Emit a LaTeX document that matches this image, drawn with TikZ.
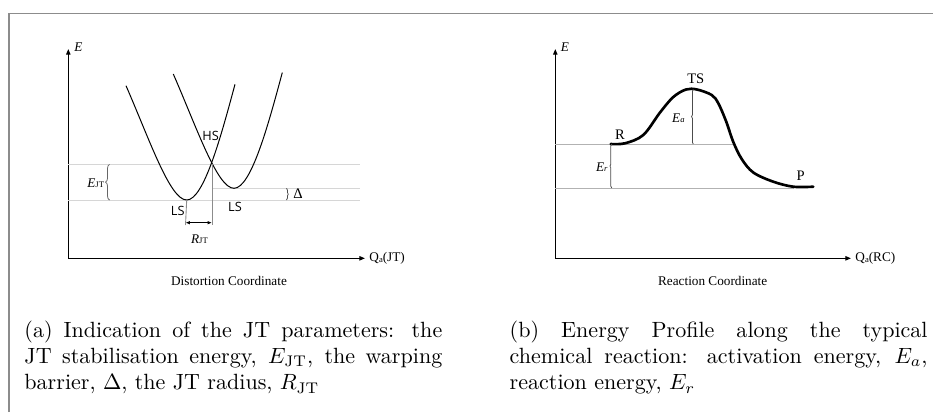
\documentclass[tikz,border=0pt]{standalone}
\usepackage{fontspec}
\usepackage{amsmath,amssymb}
\usepackage{tikz}
\usetikzlibrary{arrows.meta, decorations.pathreplacing, calc}
\newfontfamily\plotfont{Liberation Serif}
\newfontfamily\statefont{Open Sans}
\newcommand{\lowsub}[1]{{\fontsize{3.9}{4}\selectfont #1}}
\tikzstyle{frame} = [draw=black!45, line width=0.6pt]
\tikzstyle{axis} = [-{Triangle[length=2.6pt, width=2pt]}, line width=0.55pt]
\tikzstyle{guide} = [draw=black!16, line width=0.4pt]
\tikzstyle{marker} = [draw=black!45, line width=0.4pt]
\tikzstyle{well} = [line width=0.45pt]
\tikzstyle{profile} = [line width=1.2pt, line cap=round, line join=round]
\tikzstyle{lbl} = [inner sep=0pt, font={\plotfont\fontsize{6}{7}\selectfont}]
\tikzstyle{state} = [inner sep=0pt, font={\statefont\fontsize{5.8}{7}\selectfont}]
\tikzstyle{curly} = [decorate, decoration={brace, amplitude=1.8pt}, draw=black!60, line width=0.35pt]
\tikzstyle{thincurly} = [decorate, decoration={brace, amplitude=0.8pt}, draw=black!70, line width=0.35pt]
\tikzstyle{caption} = [inner sep=0pt, anchor=base west, text width=189.5pt, align=justify, font=\normalsize]

\begin{document}
\begin{tikzpicture}[x=0.4535pt, y=-0.4535pt]
    \useasboundingbox (0,0) rectangle (933,412);

    % Frame
    \draw[frame] (9,412) -- (9,13.3) -- (933,13.3);

    % (a) Axes
    \coordinate (oa) at (68.3,258.3);
    \coordinate (ea) at (68.3,49);
    \coordinate (qa) at (365,258.3);
    \draw[axis] (oa) -- (ea);
    \draw[axis] (oa) -- (qa);
    \node[lbl, anchor=west] (elabela) at (74,46.7) {\textit{E}};
    \node[lbl, anchor=west] (qlabela) at (369,258.3) {Q\raisebox{-0.5pt}{\lowsub{a}}(JT)};
    \node[lbl] (xtitlea) at (229,281) {Distortion Coordinate};

    % (a) Key points
    \coordinate (lsmin) at (186.7,200);
    \coordinate (lsmin2) at (234,188.3);
    \coordinate (hs) at (212,164.3);

    % (a) Guide lines
    \draw[guide] (oa |- hs) -- (360,164.3);
    \draw[guide] (hs |- lsmin2) -- (360,188.3);
    \draw[guide] (oa |- lsmin) -- (360,200);

    % (a) Wells
    \draw[well] (126,85.7) .. controls (149.7,140) and (170,200) .. (lsmin)
        .. controls (204,200) and (221.5,134.3) .. (235,84.3);
    \draw[well, shift={(47.3,-11.7)}] (126,85.7) .. controls (149.7,140) and (170,200) .. (186.7,200)
        .. controls (204,200) and (221.5,134.3) .. (235,84.3);

    % (a) JT radius
    \coordinate (rl) at (185.5,225);
    \coordinate (rr) at (212,225);
    \draw[marker] (lsmin) -- (rl);
    \draw[marker] (hs) -- (rr);
    \draw[{Latex[length=2pt, width=1.6pt]}-{Latex[length=2pt, width=1.6pt]}, line width=0.45pt]
        ($(rl)+(0,-2.3)$) -- ($(rr)+(0,-2.3)$);
    \node[lbl] (rjt) at (199.5,239.3) {\textit{R}\lowsub{JT}};

    % (a) Braces
    \coordinate (bjtlo) at (109.5,200);
    \coordinate (bjthi) at (109.5,164.3);
    \draw[curly] (bjtlo) -- (bjthi);
    \node[lbl, anchor=east] (ejt) at (104.5,183.3) {\textit{E}\lowsub{JT}};
    \coordinate (bdhi) at (286.5,188.3);
    \coordinate (bdlo) at (286.5,200);
    \draw[thincurly] (bdhi) -- (bdlo);
    \node[lbl, anchor=west, font={\plotfont\fontsize{6.6}{7}\selectfont}] (delta) at (293,194) {Δ};

    % (a) States
    \node[state] (hslabel) at (210.7,136) {HS};
    \node[state] (lsa) at (177.7,210.5) {LS};
    \node[state] (lsb) at (235,207.3) {LS};

    % (b) Axes
    \coordinate (ob) at (555.3,258.3);
    \coordinate (eb) at (555.3,49);
    \coordinate (qb) at (851,258.3);
    \draw[axis] (ob) -- (eb);
    \draw[axis] (ob) -- (qb);
    \node[lbl, anchor=west] (elabelb) at (560.5,46.7) {\textit{E}};
    \node[lbl, anchor=west] (qlabelb) at (855,258.3) {Q\raisebox{-0.5pt}{\lowsub{a}}(RC)};
    \node[lbl] (xtitleb) at (712.7,281) {Reaction Coordinate};

    % (b) Key points
    \coordinate (rs) at (611.7,144);
    \coordinate (ts) at (693.3,89.3);
    \coordinate (ps) at (794.3,188);

    % (b) Guide lines
    \draw[guide, draw=black!30] (ob |- rs) -- (734.3,144);
    \draw[guide, draw=black!30] (ob |- ps) -- (ps);

    % (b) Profile
    \draw[profile] plot[smooth, tension=0.55] coordinates {(610.7,144) (625,143.3) (643.3,135)
        (660,112.5) (673.3,97) (686,89.5) (697,89.5) (711.7,95) (718.3,103.3) (726,121)
        (733.3,142) (741.7,159) (753.3,172.5) (773.3,181.7) (793.3,186.7) (813.3,186.7)};

    % (b) Braces
    \draw[thincurly] (rs |- ps) -- (rs);
    \node[lbl, anchor=east] (er) at (608,167) {\textit{E}\lowsub{\textit{r}}};
    \draw[thincurly] (ts |- rs) -- (ts);
    \node[lbl, anchor=east] (ea) at (685,118.3) {\textit{E}\lowsub{\textit{a}}};

    % (b) States
    \node[lbl, font={\plotfont\fontsize{6.6}{7}\selectfont}] (tslabel) at (695.8,78.3) {TS};
    \node[lbl, font={\plotfont\fontsize{6.6}{7}\selectfont}] (rlabel) at (620,135) {R};
    \node[lbl, font={\plotfont\fontsize{6.6}{7}\selectfont}] (plabel) at (800.7,176) {P};

    % Captions
    \node[caption] (capa) at (24,337) {(a) Indication of the JT parameters: the\linebreak
        JT stabilisation energy, $E_{\mathrm{JT}}$, the warping\linebreak
        barrier, $\Delta$, the JT radius, $R_{\mathrm{JT}}$};
    \node[caption] (capb) at (509.3,337) {(b) Energy Profile along the typical\linebreak
        chemical reaction: activation energy, $E_a$,\linebreak
        reaction energy, $E_r$};

\end{tikzpicture}
\end{document}
